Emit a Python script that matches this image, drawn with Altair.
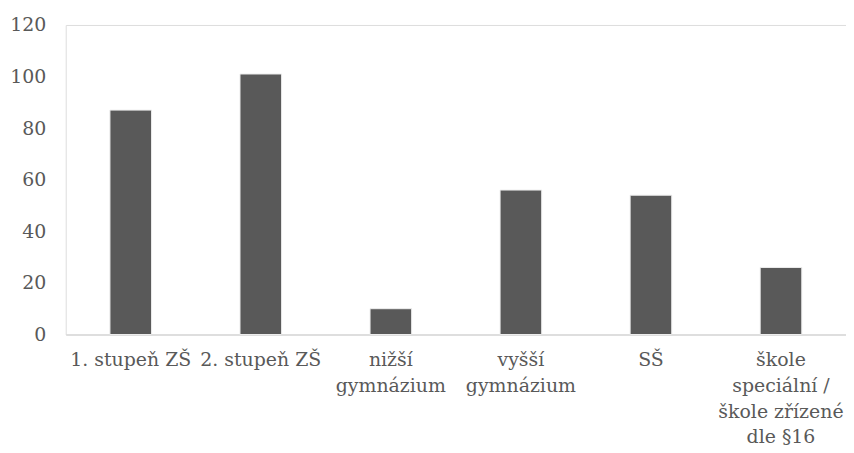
import altair as alt
import pandas as pd

categories = [
    "1. stupeň ZŠ",
    "2. stupeň ZŠ",
    "nižší\ngymnázium",
    "vyšší\ngymnázium",
    "SŠ",
    "škole\nspeciální /\nškole zřízené\ndle §16",
]
values = [87, 101, 10, 56, 54, 26]
y_ticks = [0, 20, 40, 60, 80, 100, 120]

df = pd.DataFrame({"kategorie": categories, "pocet": values})

FONT = "DejaVu Serif"
TEXT = "#595959"

chart = (
    alt.Chart(df)
    .mark_bar(color="#595959", stroke="#eeeeee", strokeWidth=1)
    .encode(
        x=alt.X(
            "kategorie:N",
            sort=categories,
            title=None,
            scale=alt.Scale(paddingInner=0.68, paddingOuter=0.34),
            axis=alt.Axis(
                labelAngle=0,
                labelExpr="split(datum.value, '\\n')",
                labelFont=FONT,
                labelFontSize=19,
                labelColor=TEXT,
                labelLineHeight=26,
                labelPadding=16,
                labelLimit=0,
                ticks=False,
                domainColor="#d9d9d9",
                domainWidth=1.5,
                grid=False,
            ),
        ),
        y=alt.Y(
            "pocet:Q",
            title=None,
            scale=alt.Scale(domain=[0, 120], nice=False),
            axis=alt.Axis(
                values=y_ticks,
                labelFont=FONT,
                labelFontSize=19,
                labelColor=TEXT,
                labelPadding=20,
                ticks=False,
                domain=False,
                grid=False,
            ),
        ),
    )
    .properties(
        width=784,
        height=311,
        autosize=alt.AutoSizeParams(type="none"),
        padding={"left": 58, "top": 16, "right": 0, "bottom": 118},
    )
    .configure_view(stroke=None)
    .configure(background="white")
)

chart.save("out.html", embed_options={"renderer": "svg", "actions": False})
